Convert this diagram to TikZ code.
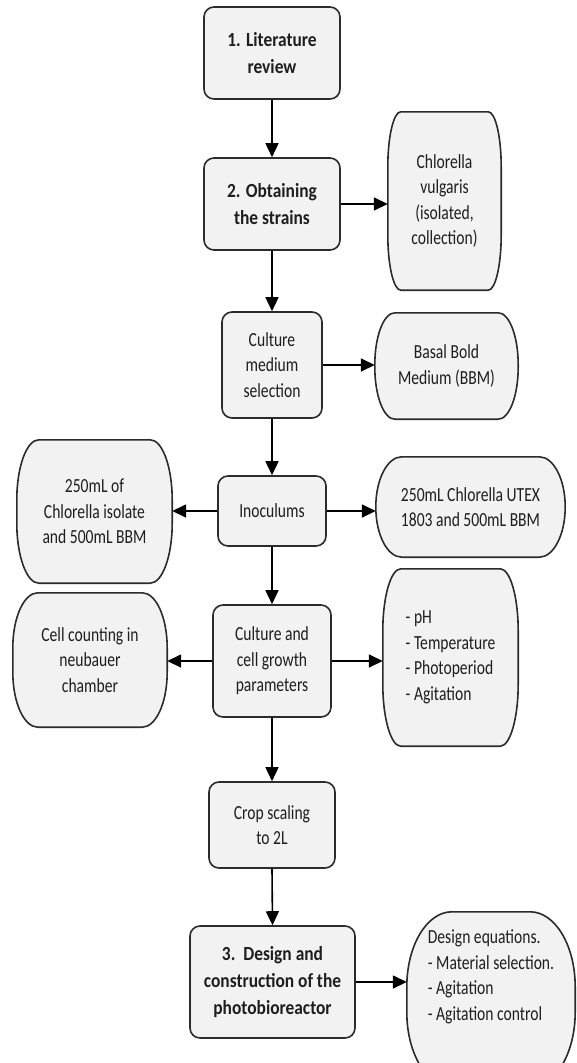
\documentclass[tikz,border=0pt]{standalone}
\usepackage{fontspec}
\setmainfont{Carlito}[FakeStretch=0.78]
\newfontfamily\boldfam{Carlito}[FakeStretch=0.87]
\usetikzlibrary{arrows.meta,backgrounds,calc}
\definecolor{boxfill}{HTML}{F2F2F2}
\definecolor{boxline}{HTML}{2B2B2B}
\definecolor{txt}{HTML}{1E1E1E}
\tikzset{
  mainbox/.style={draw=boxline, fill=boxfill, line width=1.6pt, rounded corners=10pt,
    inner sep=0pt, align=center, text=txt, font=\fontsize{20}{25.5}\selectfont},
  boldbox/.style={mainbox, font=\boldfam\bfseries\fontsize{20}{27}\selectfont},
  sidetext/.style={inner sep=0pt, align=center, text=txt, font=\fontsize{20}{25.5}\selectfont},
  softline/.style={draw=boxline, fill=boxfill, line width=1.6pt},
  conn/.style={line width=1.6pt, -{Triangle[length=14pt,width=13pt]}}
}
\newcommand\softbox[3]{%
  \begin{scope}[on background layer]
  \path[softline] ($(#1.north west)+(#2pt,0pt)$) -- ($(#1.north east)+(-#2pt,0pt)$)
    arc[start angle=90,end angle=0,x radius=#2pt,y radius=#3pt]
    -- ($(#1.south east)+(0pt,#3pt)$)
    arc[start angle=0,end angle=-90,x radius=#2pt,y radius=#3pt]
    -- ($(#1.south west)+(#2pt,0pt)$)
    arc[start angle=270,end angle=180,x radius=#2pt,y radius=#3pt]
    -- ($(#1.north west)+(0pt,-#3pt)$)
    arc[start angle=180,end angle=90,x radius=#2pt,y radius=#3pt] -- cycle;
  \end{scope}}
\begin{document}
\begin{tikzpicture}[x=1pt,y=-1pt]
\useasboundingbox (0,0) rectangle (577,1063);
\clip (0,0) rectangle (577,1063);
% main column
\node[boldbox, minimum width=136pt, minimum height=92pt] (B1) at (272,53) {1. Literature\\review};
\node[boldbox, minimum width=136pt, minimum height=92pt] (B2) at (272,204) {2. Obtaining\\the strains};
\node[mainbox, minimum width=100pt, minimum height=106pt] (B3) at (272,365) {Culture\\medium\\selection};
\node[mainbox, minimum width=108pt, minimum height=70pt] (B4) at (272,511) {Inoculums};
\node[mainbox, minimum width=118pt, minimum height=112pt] (B5) at (272,661) {Culture and\\cell growth\\parameters};
\node[mainbox, minimum width=126pt, minimum height=86pt] (B6) at (272,825) {Crop scaling\\to 2L};
\node[boldbox, minimum width=165pt, minimum height=112pt] (B7) at (272.5,982) {3.~~Design and\\construction of the\\photobioreactor};
% side boxes
\node[sidetext, minimum width=113pt, minimum height=178pt] (S1) at (444.5,201) {Chlorella\\vulgaris\\(isolated,\\collection)};
\softbox{S1}{13}{55}
\node[sidetext, minimum width=143pt, minimum height=106pt] (S2) at (446.5,366) {Basal Bold\\Medium (BBM)};
\softbox{S2}{20}{52}
\node[sidetext, minimum width=155pt, minimum height=143pt] (S3) at (94.5,511.5) {250mL of\\Chlorella isolate\\and 500mL BBM};
\softbox{S3}{22}{60}
\node[sidetext, minimum width=189pt, minimum height=100pt] (S4) at (470.5,507) {250mL Chlorella UTEX\\1803 and 500mL BBM};
\softbox{S4}{26}{50}
\node[sidetext, minimum width=154pt, minimum height=134pt] (S5) at (90,660) {Cell counting in\\neubauer\\chamber};
\softbox{S5}{25}{55}
\node[sidetext, align=left, minimum width=135pt, minimum height=177pt] (S6) at (450.5,657.5) {- pH\\- Temperature\\- Photoperiod\\- Agitation};
\softbox{S6}{18}{62}
\node[sidetext, minimum width=168pt, minimum height=175pt] (S7) at (491,999.5) {};
\softbox{S7}{45}{75}
\node[sidetext, align=left] (S7t) at (491,977) {Design equations.\\- Material selection.\\- Agitation\\- Agitation control};
% connectors
\draw[conn] (B1.south) -- (B2.north);
\draw[conn] (B2.south) -- (B3.north);
\draw[conn] (B3.south) -- (B4.north);
\draw[conn] (B4.south) -- (B5.north);
\draw[conn] (B5.south) -- (B6.north);
\draw[conn] (B6.south) -- (B7.north);
\draw[conn] (B2.east) -- (B2.east -| S1.west);
\draw[conn] (B3.east) -- (B3.east -| S2.west);
\draw[conn] (B4.west) -- (B4.west -| S3.east);
\draw[conn] (B4.east) -- (B4.east -| S4.west);
\draw[conn] (B5.west) -- (B5.west -| S5.east);
\draw[conn] (B5.east) -- (B5.east -| S6.west);
\draw[conn] (B7.east) -- (B7.east -| S7.west);
\end{tikzpicture}
\end{document}
